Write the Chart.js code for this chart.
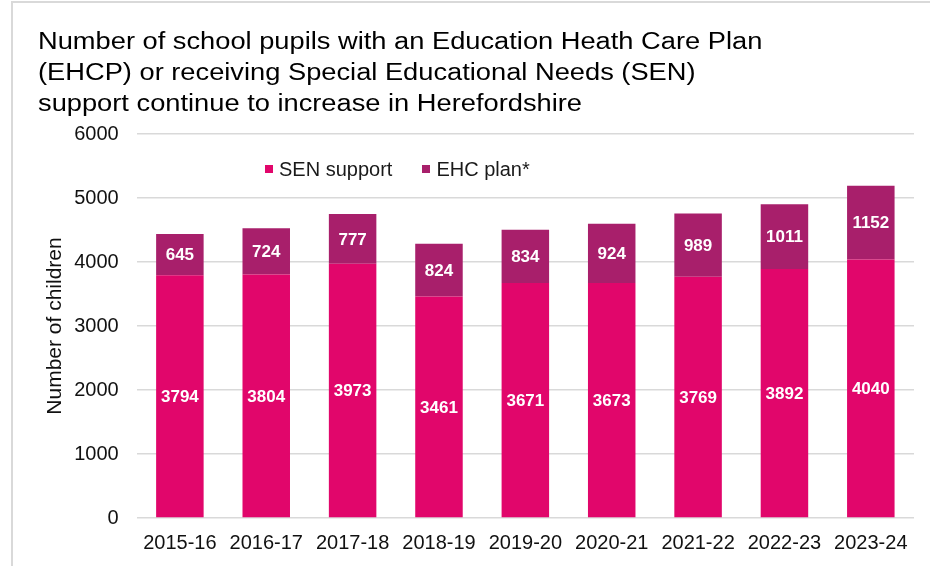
<!DOCTYPE html>
<html lang="en">
<head>
<meta charset="utf-8">
<title>SEN support and EHC plans, Herefordshire</title>
<script src="https://cdn.jsdelivr.net/npm/chart.js@4.4.1/dist/chart.umd.min.js"></script>
<style>
  html, body { margin: 0; padding: 0; background: #fff; }
  #wrap { position: relative; width: 930px; height: 566px; overflow: hidden; }
  #frame {
    position: absolute; left: 11px; top: 1px; width: 940px; height: 600px;
    border-top: 2px solid #d9d9d9; border-left: 2px solid #d9d9d9;
  }
  #chart-sen { position: absolute; left: 0; top: 0; }
  #chart-title {
    position: absolute; left: 38px; top: 26px;
    font-family: 'Liberation Sans', Arial, sans-serif; font-size: 23.5px; line-height: 31px;
    color: #000; white-space: nowrap;
    transform: scaleX(1.16); transform-origin: 0 0;
  }
  #legend {
    position: absolute; left: 265px; top: 157px; display: flex;
    font-family: 'Liberation Sans', Arial, sans-serif; font-size: 20px; line-height: 24px; color: #1a1a1a;
  }
  #legend .item { display: flex; align-items: center; margin-right: 30px; }
  #legend .box { width: 8px; height: 8px; margin-right: 6px; }
</style>
</head>
<body>
<div id="wrap">
  <div id="frame"></div>
  <canvas id="chart-sen" width="930" height="566"></canvas>
  <div id="chart-title">Number of school pupils with an Education Heath Care Plan<br>(EHCP) or receiving Special Educational Needs (SEN)<br>support continue to increase in Herefordshire</div>
  <div id="legend"></div>
</div>
<script>
const categorias = ['2015-16', '2016-17', '2017-18', '2018-19', '2019-20', '2020-21', '2021-22', '2022-23', '2023-24'];
const senSupport = [3794, 3804, 3973, 3461, 3671, 3673, 3769, 3892, 4040];
const ehcPlan    = [645, 724, 777, 824, 834, 924, 989, 1011, 1152];
const yMax  = 6000;
const yStep = 1000;

const FONT = "'Liberation Sans', Arial, sans-serif";
const COLOR_SEN = '#E1066B';
const COLOR_EHC = '#A81F6B';

// white totals centred inside each stacked segment
const etiquetasValor = {
  id: 'etiquetasValor',
  afterDatasetsDraw(chart) {
    const { ctx } = chart;
    ctx.save();
    ctx.font = `bold 17px ${FONT}`;
    ctx.fillStyle = '#fff';
    ctx.textAlign = 'center';
    ctx.textBaseline = 'middle';
    chart.data.datasets.forEach((ds, i) => {
      chart.getDatasetMeta(i).data.forEach((bar, j) => {
        const { x, y, base } = bar.getProps(['x', 'y', 'base'], true);
        ctx.fillText(String(ds.data[j]), x, (y + base) / 2 + 1);
      });
    });
    ctx.restore();
  }
};

const chart = new Chart(document.getElementById('chart-sen'), {
  type: 'bar',
  data: {
    labels: categorias,
    datasets: [
      { label: 'SEN support', data: senSupport, backgroundColor: COLOR_SEN, barPercentage: 0.55, categoryPercentage: 1 },
      { label: 'EHC plan*',   data: ehcPlan,    backgroundColor: COLOR_EHC, barPercentage: 0.55, categoryPercentage: 1 },
    ],
  },
  options: {
    responsive: false,
    animation: false,
    layout: { padding: { left: 20, right: 16, top: 134, bottom: 6 } },
    plugins: {
      legend: { display: false },
      tooltip: { enabled: false },
    },
    scales: {
      x: {
        stacked: true,
        grid: { display: false },
        border: { display: false },
        ticks: { color: '#111', font: { family: FONT, size: 20 }, padding: 5, maxRotation: 0 },
      },
      y: {
        stacked: true,
        min: 0,
        max: yMax,
        grid: { color: '#d9d9d9', lineWidth: 1.5, drawTicks: false },
        border: { display: false },
        ticks: {
          stepSize: yStep,
          padding: 18,
          color: '#111',
          font: { family: FONT, size: 20 },
          callback: v => String(v),
        },
        title: {
          display: true,
          text: 'Number of children',
          color: '#111',
          font: { family: FONT, size: 21 },
          padding: { top: 23, bottom: -12 },
        },
      },
    },
  },
  plugins: [etiquetasValor],
});

document.getElementById('legend').innerHTML = chart.data.datasets.map(d => `
  <div class="item"><span class="box" style="background:${d.backgroundColor}"></span>${d.label}</div>
`).join('');
</script>
</body>
</html>
